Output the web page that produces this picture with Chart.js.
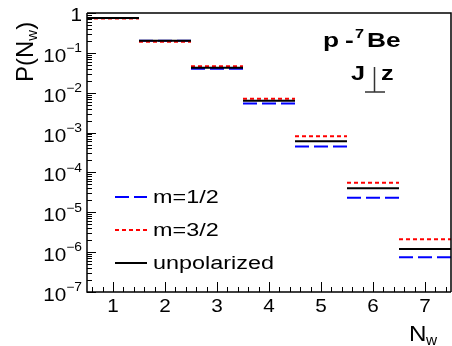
<!DOCTYPE html>
<html>
<head>
<meta charset="utf-8">
<script src="https://cdn.jsdelivr.net/npm/chart.js@4/dist/chart.umd.min.js"></script>
<style>
  html, body { margin: 0; padding: 0; background: #fff; }
  #wrap { width: 452px; height: 346px; }
</style>
</head>
<body>
<div id="wrap"><canvas id="chart"></canvas></div>
<script>
// bins N_w = 1..7
const bins = [1, 2, 3, 4, 5, 6, 7];
const m12 = [0.75, 0.20, 0.040, 0.0054, 4.5e-4, 2.3e-5, 7.4e-7];
const m32 = [0.73, 0.19, 0.046, 0.0071, 8.1e-4, 5.5e-5, 2.1e-6];
const unpol = [0.75, 0.20, 0.042, 0.0063, 6.1e-4, 4.0e-5, 1.2e-6];
const xTicks = [1, 2, 3, 4, 5, 6, 7];
const yExps = [0, -1, -2, -3, -4, -5, -6, -7];

const FONT = '"Liberation Sans", Arial, Helvetica, sans-serif';

// histogram steps: one flat segment per bin, gaps between
function steps(vals) {
  const pts = [];
  bins.forEach(function (b, i) {
    pts.push({ x: b - 0.5, y: vals[i] });
    pts.push({ x: b + 0.5, y: vals[i] });
    pts.push({ x: b + 0.5, y: null });
  });
  return pts;
}

// text a bit wider than the font, like the original output
function txt(ctx, s, x, y, font, align, sx) {
  ctx.save();
  ctx.font = font;
  ctx.translate(x, y);
  ctx.scale(sx, 1);
  ctx.textAlign = align;
  ctx.fillText(s, 0, 0);
  const w = ctx.measureText(s).width * sx;
  ctx.restore();
  return w;
}

const rootAxes = {
  id: 'rootAxes',
  afterDraw: function (chart) {
    const ctx = chart.ctx;
    const a = chart.chartArea;
    const xs = chart.scales.x;
    const ys = chart.scales.y;
    ctx.save();
    ctx.strokeStyle = '#000';
    ctx.fillStyle = '#000';
    ctx.lineWidth = 1.5;

    // frame
    ctx.beginPath();
    ctx.moveTo(a.left, a.top); ctx.lineTo(a.left, a.bottom); ctx.lineTo(a.right, a.bottom);
    ctx.moveTo(a.left, a.top); ctx.lineTo(a.right, a.top);
    ctx.lineTo(a.right, a.bottom);
    ctx.stroke();

    // y ticks (log)
    ctx.lineWidth = 1;
    ctx.beginPath();
    yExps.forEach(function (e) {
      const py = Math.round(ys.getPixelForValue(Math.pow(10, e))) + 0.5;
      ctx.moveTo(a.left, py); ctx.lineTo(a.left + 9, py);
      if (e > -7) {
        for (let k = 2; k <= 9; k++) {
          const my = Math.round(ys.getPixelForValue(k * Math.pow(10, e - 1))) + 0.5;
          ctx.moveTo(a.left, my); ctx.lineTo(a.left + 5, my);
        }
      }
    });
    // x ticks
    for (let v = 0.6; v < 7.5; v += 0.2) {
      const px = Math.round(xs.getPixelForValue(v)) + 0.5;
      const major = Math.abs(v - Math.round(v)) < 1e-6;
      ctx.moveTo(px, a.bottom); ctx.lineTo(px, a.bottom - (major ? 10 : 5));
    }
    ctx.stroke();

    // y tick labels
    ctx.textBaseline = 'middle';
    yExps.forEach(function (e) {
      const py = ys.getPixelForValue(Math.pow(10, e));
      const rx = a.left - 5;
      if (e === 0) {
        txt(ctx, '1', rx, py + 3, '18px ' + FONT, 'right', 1.15);
        return;
      }
      const sw = txt(ctx, '\u2212' + (-e), rx, py - 4, '12px ' + FONT, 'right', 1.15);
      txt(ctx, '10', rx - sw, py + 4, '18px ' + FONT, 'right', 1.15);
    });

    // x tick labels
    ctx.textBaseline = 'top';
    xTicks.forEach(function (t) {
      txt(ctx, String(t), xs.getPixelForValue(t), a.bottom + 6, '18px ' + FONT, 'center', 1.15);
    });

    // x title N_w
    ctx.textBaseline = 'alphabetic';
    txt(ctx, 'N', 409, 341, '22px ' + FONT, 'left', 1.1);
    txt(ctx, 'w', 426, 345, '14px ' + FONT, 'left', 1.1);

    // y title P(N_w)
    ctx.save();
    ctx.translate(33, 82);
    ctx.rotate(-Math.PI / 2);
    let x0 = 0;
    x0 += txt(ctx, 'P(N', x0, 0, '24px ' + FONT, 'left', 1);
    x0 += txt(ctx, 'w', x0, 4, '15px ' + FONT, 'left', 1);
    txt(ctx, ')', x0, 0, '24px ' + FONT, 'left', 1);
    ctx.restore();

    // label p - 7Be
    const bold = 'bold 21px ' + FONT;
    txt(ctx, 'p', 323, 47, bold, 'left', 1.25);
    txt(ctx, '-', 345, 47, bold, 'left', 1.25);
    txt(ctx, '7', 355, 38, 'bold 13px ' + FONT, 'left', 1.25);
    txt(ctx, 'Be', 367, 47, bold, 'left', 1.25);

    // J perp z
    txt(ctx, 'J', 351, 80, bold, 'left', 1.2);
    txt(ctx, 'z', 381, 80, bold, 'left', 1.2);
    ctx.strokeStyle = '#333';
    ctx.lineWidth = 1.5;
    ctx.beginPath();
    ctx.moveTo(374.5, 67); ctx.lineTo(374.5, 92);
    ctx.moveTo(365, 92); ctx.lineTo(385, 92);
    ctx.stroke();

    // legend
    ctx.textBaseline = 'middle';
    const rows = [197, 230, 263];
    chart.data.datasets.forEach(function (ds, i) {
      const y = rows[i];
      ctx.strokeStyle = ds.borderColor;
      ctx.lineWidth = ds.borderWidth;
      ctx.setLineDash(ds.borderDash || []);
      ctx.beginPath();
      ctx.moveTo(115, y); ctx.lineTo(147, y);
      ctx.stroke();
      ctx.setLineDash([]);
      ctx.fillStyle = '#000';
      txt(ctx, ds.label, 153, y + 1, '18px ' + FONT, 'left', 1.3);
    });
    ctx.restore();
  }
};

const config = {
  type: 'line',
  data: {
    datasets: [
      {
        label: 'm=1/2',
        data: steps(m12),
        borderColor: '#0000ff',
        borderWidth: 2,
        borderDash: [14, 5],
        order: 3
      },
      {
        label: 'm=3/2',
        data: steps(m32),
        borderColor: '#ff0000',
        borderWidth: 2,
        borderDash: [4, 3],
        order: 2
      },
      {
        label: 'unpolarized',
        data: steps(unpol),
        borderColor: '#000000',
        borderWidth: 2,
        order: 1
      }
    ]
  },
  options: {
    responsive: true,
    maintainAspectRatio: false,
    animation: false,
    spanGaps: false,
    elements: { point: { radius: 0 }, line: { tension: 0 } },
    layout: { padding: { left: 87, top: 13, right: 1, bottom: 54 } },
    scales: {
      x: { type: 'linear', min: 0.5, max: 7.5, display: false },
      y: { type: 'logarithmic', min: 1e-7, max: 1, display: false }
    },
    plugins: { legend: { display: false }, tooltip: { enabled: false } }
  },
  plugins: [rootAxes]
};

var chart = new Chart(document.getElementById('chart'), config);
</script>
</body>
</html>
